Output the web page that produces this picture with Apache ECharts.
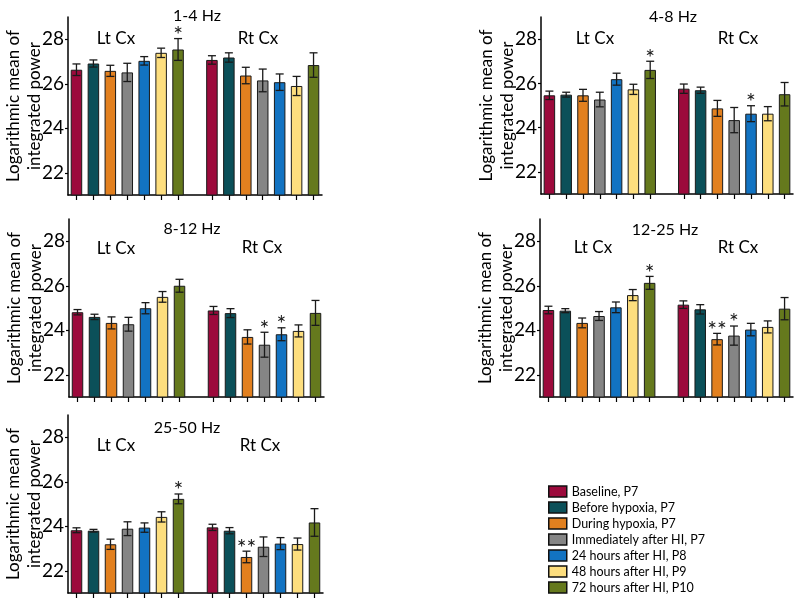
<!DOCTYPE html>
<html>
<head>
<meta charset="utf-8">
<script src="https://cdn.jsdelivr.net/npm/echarts@6/dist/echarts.min.js"></script>
<style>
  html, body { margin: 0; padding: 0; background: #fff; }
  #chart { width: 800px; height: 603px; }
</style>
</head>
<body>
<div id="chart"></div>
<script>
// ---------- data ----------
const conditions = ['Baseline, P7', 'Before hypoxia, P7', 'During hypoxia, P7',
  'Immediately after HI, P7', '24 hours after HI, P8', '48 hours after HI, P9', '72 hours after HI, P10'];
const colors = ['#9C0A3C', '#0B5059', '#E2801F', '#858585', '#1273C2', '#FDDE7E', '#65791D'];
const categories = ['Lt-1', 'Lt-2', 'Lt-3', 'Lt-4', 'Lt-5', 'Lt-6', 'Lt-7', '',
  'Rt-1', 'Rt-2', 'Rt-3', 'Rt-4', 'Rt-5', 'Rt-6', 'Rt-7'];
const bands = ['1-4 Hz', '4-8 Hz', '8-12 Hz', '12-25 Hz', '25-50 Hz'];
const yTicks = [22, 24, 26, 28];
const yMin = 21, yMax = 29;
const yName = 'Logarithmic mean of\nintegrated power';

// 1-4 Hz
const lt1 = [26.63, 26.91, 26.58, 26.51, 27.03, 27.39, 27.54];
const lt1Err = [0.26, 0.16, 0.25, 0.41, 0.19, 0.21, 0.49];
const rt1 = [27.07, 27.18, 26.37, 26.15, 26.07, 25.90, 26.84];
const rt1Err = [0.19, 0.21, 0.37, 0.51, 0.37, 0.43, 0.55];
const lt1Star = ['', '', '', '', '', '', '*'];
const rt1Star = ['', '', '', '', '', '', ''];
// 4-8 Hz
const lt2 = [25.46, 25.49, 25.46, 25.27, 26.19, 25.73, 26.61];
const lt2Err = [0.19, 0.11, 0.27, 0.33, 0.27, 0.23, 0.39];
const rt2 = [25.76, 25.69, 24.87, 24.34, 24.63, 24.63, 25.51];
const rt2Err = [0.21, 0.14, 0.36, 0.57, 0.36, 0.32, 0.53];
const lt2Star = ['', '', '', '', '', '', '*'];
const rt2Star = ['', '', '', '', '*', '', ''];
// 8-12 Hz
const lt3 = [24.81, 24.60, 24.33, 24.27, 24.99, 25.50, 26.00];
const lt3Err = [0.12, 0.12, 0.27, 0.31, 0.25, 0.24, 0.29];
const rt3 = [24.89, 24.77, 23.70, 23.35, 23.82, 23.97, 24.78];
const rt3Err = [0.18, 0.20, 0.32, 0.56, 0.29, 0.27, 0.56];
const lt3Star = ['', '', '', '', '', '', ''];
const rt3Star = ['', '', '', '*', '*', '', ''];
// 12-25 Hz
const lt4 = [24.91, 24.88, 24.33, 24.64, 25.03, 25.58, 26.13];
const lt4Err = [0.17, 0.09, 0.22, 0.20, 0.24, 0.25, 0.29];
const rt4 = [25.15, 24.94, 23.60, 23.76, 24.03, 24.15, 24.97];
const rt4Err = [0.17, 0.21, 0.26, 0.43, 0.28, 0.27, 0.50];
const lt4Star = ['', '', '', '', '', '', '*'];
const rt4Star = ['', '', '**', '*', '', '', ''];
// 25-50 Hz
const lt5 = [23.82, 23.80, 23.19, 23.89, 23.94, 24.42, 25.23];
const lt5Err = [0.11, 0.06, 0.23, 0.31, 0.21, 0.23, 0.22];
const rt5 = [23.95, 23.80, 22.62, 23.08, 23.22, 23.20, 24.17];
const rt5Err = [0.14, 0.14, 0.26, 0.44, 0.27, 0.27, 0.62];
const lt5Star = ['', '', '', '', '', '', '*'];
const rt5Star = ['', '', '**', '', '', '', ''];

const panels = [
  {lt: lt1, ltErr: lt1Err, rt: rt1, rtErr: rt1Err, ltStar: lt1Star, rtStar: rt1Star},
  {lt: lt2, ltErr: lt2Err, rt: rt2, rtErr: rt2Err, ltStar: lt2Star, rtStar: rt2Star},
  {lt: lt3, ltErr: lt3Err, rt: rt3, rtErr: rt3Err, ltStar: lt3Star, rtStar: rt3Star},
  {lt: lt4, ltErr: lt4Err, rt: rt4, rtErr: rt4Err, ltStar: lt4Star, rtStar: rt4Star},
  {lt: lt5, ltErr: lt5Err, rt: rt5, rtErr: rt5Err, ltStar: lt5Star, rtStar: rt5Star}
];

// ---------- layout ----------
const grids = [
  {left: 68, top: 17, width: 254, height: 178},
  {left: 541, top: 17, width: 252, height: 177},
  {left: 69, top: 219, width: 255, height: 178},
  {left: 540, top: 219, width: 253, height: 178},
  {left: 68, top: 415, width: 255, height: 178}
];
const titlePos = [[197, 16], [673, 17], [192, 229], [665, 230], [187, 428]];
const ltPos = [[116, 39], [595, 39], [116, 249], [593, 248], [116, 446]];
const rtPos = [[258, 39], [738, 39], [262, 248], [738, 248], [260, 446]];

const FONT = 'Lato';
const option = {
  animation: false,
  textStyle: {fontFamily: FONT, color: '#000'},
  grid: grids.map(g => Object.assign({containLabel: false}, g)),
  xAxis: grids.map((g, i) => ({
    type: 'category', gridIndex: i, data: categories, boundaryGap: true,
    axisLine: {lineStyle: {color: '#000', width: 1.5}},
    axisTick: {show: true, alignWithLabel: true, length: 5,
      interval: (idx, val) => val !== '', lineStyle: {color: '#000', width: 1.2}},
    axisLabel: {show: false}, splitLine: {show: false}
  })),
  yAxis: grids.map((g, i) => ({
    type: 'value', gridIndex: i, min: yMin, max: yMax,
    name: yName, nameLocation: 'middle', nameRotate: 90, nameGap: 23, nameMoveOverlap: false,
    nameTextStyle: {fontSize: 17, lineHeight: 21, color: '#000', fontFamily: FONT},
    axisLine: {show: true, lineStyle: {color: '#000', width: 1.5}},
    axisTick: {show: true, length: 3, customValues: yTicks, lineStyle: {color: '#000', width: 1.2}},
    axisLabel: {customValues: yTicks, fontSize: 19, color: '#000', margin: 4, fontFamily: FONT},
    splitLine: {show: false}
  })),
  legend: {
    orient: 'vertical', left: 543, top: 480, itemWidth: 18, itemHeight: 11, itemGap: 3,
    selectedMode: false, icon: 'rect', data: conditions,
    textStyle: {fontSize: 12.5, color: '#000', fontFamily: FONT},
    itemStyle: {borderColor: '#111', borderWidth: 1.5}
  },
  graphic: [],
  series: []
};

bands.forEach((b, i) => {
  option.graphic.push({type: 'text', x: titlePos[i][0], y: titlePos[i][1],
    style: {text: b, fontSize: 16, fontFamily: FONT, fill: '#000', textAlign: 'center', textVerticalAlign: 'middle'}});
  option.graphic.push({type: 'text', x: ltPos[i][0], y: ltPos[i][1],
    style: {text: 'Lt Cx', fontSize: 17, fontFamily: FONT, fill: '#000', textAlign: 'center', textVerticalAlign: 'middle'}});
  option.graphic.push({type: 'text', x: rtPos[i][0], y: rtPos[i][1],
    style: {text: 'Rt Cx', fontSize: 17, fontFamily: FONT, fill: '#000', textAlign: 'center', textVerticalAlign: 'middle'}});
});

panels.forEach((p, pi) => {
  conditions.forEach((c, k) => {
    const data = categories.map(() => '-');
    data[k] = p.lt[k];
    data[k + 8] = p.rt[k];
    option.series.push({
      type: 'bar', name: c, xAxisIndex: pi, yAxisIndex: pi, data: data,
      barWidth: 11.5, barGap: '-100%',
      itemStyle: {color: colors[k], borderColor: '#1a1a1a', borderWidth: 1}
    });
  });
  const errData = [];
  for (let k = 0; k < 7; k++) {
    errData.push([k, p.lt[k], p.ltErr[k], p.ltStar[k]]);
    errData.push([k + 8, p.rt[k], p.rtErr[k], p.rtStar[k]]);
  }
  option.series.push({
    type: 'custom', xAxisIndex: pi, yAxisIndex: pi, data: errData, z: 10,
    encode: {x: 0, y: 1},
    renderItem: (params, api) => {
      const x = api.value(0), v = api.value(1), e = api.value(2);
      const star = errData[params.dataIndex][3];
      const top = api.coord([x, v + e]);
      const bot = api.coord([x, v - e]);
      const hw = 4;
      const st = {stroke: '#1a1a1a', lineWidth: 1.3};
      const children = [
        {type: 'line', shape: {x1: top[0], y1: top[1], x2: bot[0], y2: bot[1]}, style: st},
        {type: 'line', shape: {x1: top[0] - hw, y1: top[1], x2: top[0] + hw, y2: top[1]}, style: st},
        {type: 'line', shape: {x1: bot[0] - hw, y1: bot[1], x2: bot[0] + hw, y2: bot[1]}, style: st}
      ];
      if (star) {
        children.push({type: 'text', x: top[0], y: top[1] - 3,
          style: {text: star, fontSize: 23, fontFamily: FONT, fill: '#1a1a1a', textAlign: 'center', textVerticalAlign: 'middle'}});
      }
      return {type: 'group', children: children};
    }
  });
});

const chart = echarts.init(document.getElementById('chart'), null, {renderer: 'canvas'});
chart.setOption(option);
</script>
</body>
</html>
